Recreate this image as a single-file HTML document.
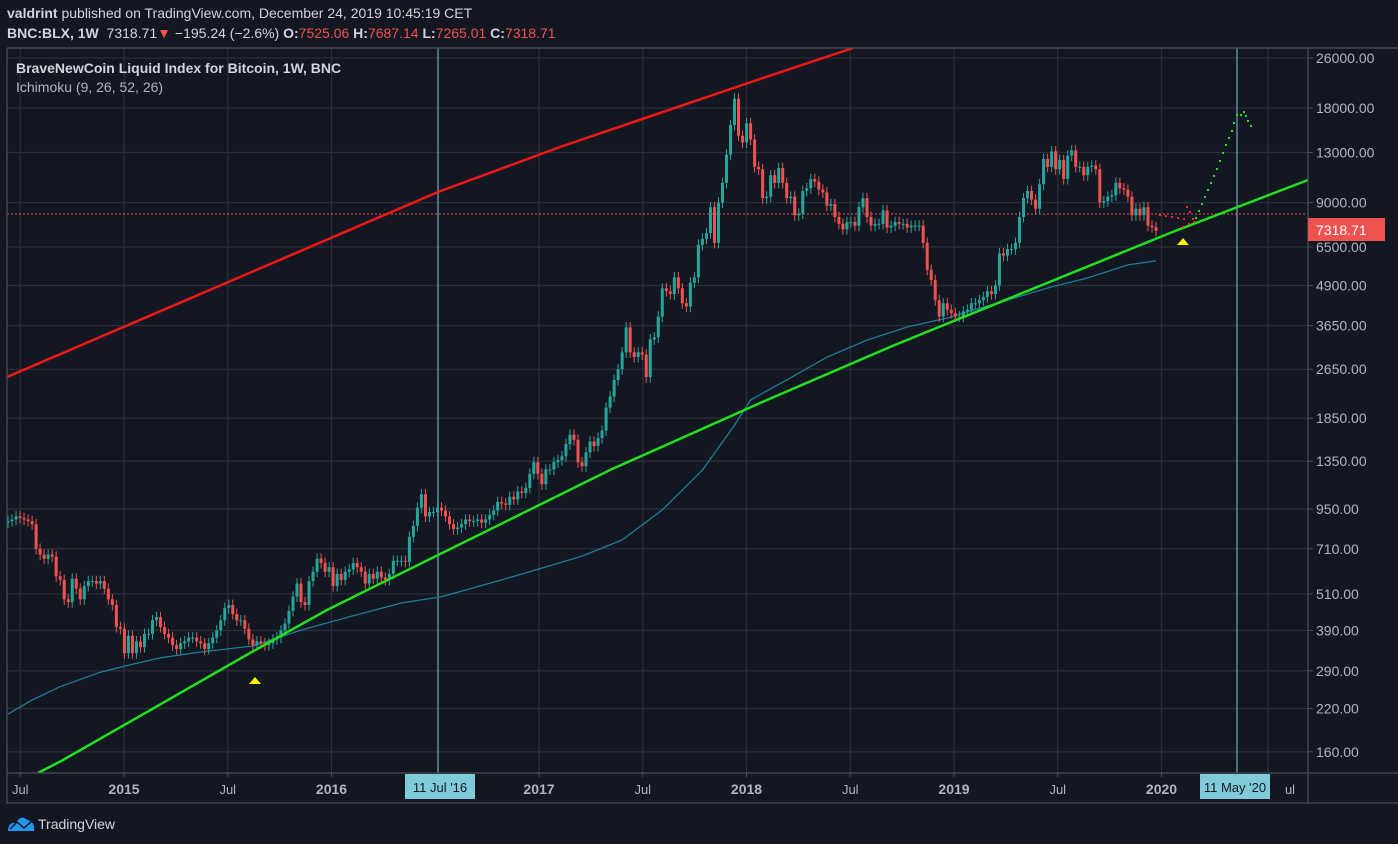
<!DOCTYPE html>
<html><head><meta charset="utf-8">
<style>
body{margin:0;background:#131722;width:1398px;height:844px;overflow:hidden;font-family:"Liberation Sans",sans-serif;}
#hdr1{position:absolute;left:7px;top:5px;color:#d1d4dc;font-size:14px;}
#hdr2{position:absolute;left:7px;top:25px;color:#d1d4dc;font-size:14px;font-weight:bold;}
.r{color:#ef5350;font-weight:normal}
svg{position:absolute;left:0;top:0}
</style></head><body>
<div id="hdr1"><b>valdrint</b> published on TradingView.com, December 24, 2019 10:45:19 CET</div>
<div id="hdr2">BNC:BLX, 1W <span style="font-weight:normal">&nbsp;7318.71</span><span class="r">▼</span><span style="font-weight:normal"> −195.24 (−2.6%)</span> O:<span class="r">7525.06</span> H:<span class="r">7687.14</span> L:<span class="r">7265.01</span> C:<span class="r">7318.71</span></div>
<svg id="chart" width="1398" height="844"></svg>
<script>
const closes=[870,880,900,890,880,870,850,710,680,660,680,670,580,565,490,480,570,530,490,540,560,560,550,560,530,490,470,400,395,330,375,330,360,345,380,380,420,430,400,380,370,350,340,355,360,370,370,360,355,340,355,370,390,420,460,470,440,420,420,395,365,350,360,355,350,355,365,370,390,410,450,500,550,480,470,560,600,660,640,600,620,
540,590,565,600,610,640,620,600,550,590,570,600,575,565,590,650,650,650,645,775,840,960,1060,900,930,930,960,940,900,850,820,830,850,880,870,870,880,860,880,910,940,1000,990,980,1040,1020,1080,1070,1110,1230,1340,1230,1140,1270,1270,1340,1360,1400,1530,1640,1580,1340,1300,1440,1560,1510,1600,1690,2000,2170,
2450,2650,3000,3600,3000,2900,3000,2950,2500,3300,3350,3900,4800,4700,4600,5200,4800,4300,4200,5000,5200,6600,6900,7200,8700,6700,9000,10400,12800,15900,19300,14700,14000,16100,14300,11700,11500,9300,9400,11000,10400,11600,10400,9300,9400,8200,8300,9800,10000,10700,10500,9900,9700,8800,8900,8100,7700,
7400,7800,7800,7600,8700,9300,8100,7600,7700,7700,8500,7500,7600,7800,7700,7700,7500,7600,7600,7600,6700,5500,5100,4400,3900,4300,4100,4000,3900,3900,4050,4100,4300,4300,4400,4500,4700,4600,4900,6200,6100,6400,6400,6700,8100,9300,9800,9200,8600,10300,12400,11700,13100,11500,12300,10700,12700,13200,11700,11700,11000,11700,11800,11500,9000,9100,9400,9500,10400,10000,9900,9400,8200,8600,8200,8700,7600,7514,7318.71];
const maWeeks=[0,6,13,23,29,38,48,61,73,86,98,108,123,133,143,153,163,173,181,185,194,204,214,224,234,239,249,259,269,279,286];
const maValues=[211,234,258,287,300,319,333,348,391,434,477,499,565,616,673,757,944,1264,1759,2114,2450,2895,3282,3613,3860,4035,4400,4810,5180,5700,5870];
const priceTicks=[26000,18000,13000,9000,6500,4900,3650,2650,1850,1350,950,710,510,390,290,220,160];
const timeTicks=[["Jul",2014.5,0],["2015",2015,1],["Jul",2015.5,0],["2016",2016,1],["2017",2017,1],["Jul",2017.5,0],["2018",2018,1],["Jul",2018.5,0],["2019",2019,1],["Jul",2019.5,0],["2020",2020,1]];
const NS="http://www.w3.org/2000/svg";
const svg=document.getElementById('chart');
const L=7,R=1308,T=48,B=773;
const LN26=Math.log(26000);
function yP(p){return 58+(LN26-Math.log(p))*136.3;}
function xT(t){return 124+(t-2015)*207.5;}
function xW(i){return 8+i*(1156-8)/(closes.length-1);}
function el(tag,attrs,parent){const e=document.createElementNS(NS,tag);for(const k in attrs)e.setAttribute(k,attrs[k]);(parent||svg).appendChild(e);return e;}
const defs=el('defs',{});const cp=el('clipPath',{id:'pc'},defs);el('rect',{x:L,y:T,width:R-L,height:B-T},cp);
const grid=el('g',{});


priceTicks.forEach(p=>{const l=el('line',{x1:L,x2:R,y1:yP(p),y2:yP(p),stroke:'#2a2e39','stroke-width':1.3},grid);

});
timeTicks.forEach(t=>{const x=xT(t[1]);const l=el('line',{x1:x,x2:x,y1:T,y2:B,stroke:'#2a2e39','stroke-width':1.3},grid);

});
[1268].forEach(x=>{el('line',{x1:x,x2:x,y1:T,y2:B,stroke:'#2a2e39','stroke-width':1.3},grid);});
[[438,'marker-jul-2016'],[1237,'marker-may-2020']].forEach(m=>{const l=el('line',{x1:m[0],x2:m[0],y1:T,y2:B,stroke:'#6fa9b8','stroke-width':1.2});

});
const g=el('g',{'clip-path':'url(#pc)'});
const pl=el('line',{x1:L,x2:R,y1:214,y2:214,stroke:'#ef5350','stroke-dasharray':'2,2','stroke-width':1},g);


const rl=el('polyline',{points:'7,377 438,192 560,147 757,80 853,48',fill:'none',stroke:'#f21818','stroke-width':2.5},g);


let d='';maWeeks.forEach((w,i)=>{d+=(i?'L':'M')+xW(w).toFixed(1)+','+yP(maValues[i]).toFixed(1);});
const ma=el('path',{d:d,fill:'none',stroke:'#1f7c96','stroke-width':1.3},g);


const cg=el('g',{},g);


for(let i=0;i<closes.length;i++){
 const c=closes[i],o=i?closes[i-1]:c*0.99;const up=c>=o;const col=up?'#26a69a':'#ef5350';
 const x=xW(i);const hi=Math.max(o,c)*1.04,lo=Math.min(o,c)*0.96;
 const w=el('line',{x1:x,x2:x,y1:yP(hi),y2:yP(lo),stroke:col,'stroke-width':1},cg);
 
 
 const yt=yP(Math.max(o,c)),yb=yP(Math.min(o,c));
 const b=el('rect',{x:x-1.5,y:yt,width:3,height:Math.max(1,yb-yt),fill:col},cg);
 
 
}
const gl=el('polyline',{points:'38,773 63,760 250,653 327,610 610,470 767,400 890,347 907,340 1170,233 1308,180',fill:'none',stroke:'#22e01e','stroke-width':2.5},g);


const redDots=[[1160,215],[1166,216],[1172,217],[1178,218],[1184,219],[1187,207],[1190,212],[1183,227],[1189,224],[1193,219],[1194,222]];
redDots.forEach(p=>{const r=el('rect',{x:p[0]-1,y:p[1]-1,width:2,height:2,fill:'#ff2020'},g);

});
const greenDots=[[1196,218],[1199,211],[1202,204],[1205,197],[1208,190],[1211,183],[1214,176],[1217,169],[1220,161],[1223,153],[1226,145],[1229,138],[1232,131],[1234,123],[1237,115],[1241,115],[1244,112],[1246,116],[1248,121],[1251,126]];
greenDots.forEach(p=>{const r=el('rect',{x:p[0]-1,y:p[1]-1,width:2,height:2,fill:'#22e01e'},g);

});
[[255,680],[1183,241]].forEach(p=>{const t=el('polygon',{points:`${p[0]-6},${p[1]+4} ${p[0]},${p[1]-3} ${p[0]+6},${p[1]+4}`,fill:'#fff200'});

});
const fr=el('path',{d:`M${L},${T}H1398M${L},${T}V803H1398M${R},${T}V803M${L},${B}H1398`,stroke:'#4a4e59','stroke-width':1.3,fill:'none'});


priceTicks.forEach(p=>{const y=yP(p);
 el('line',{x1:R,x2:R+5,y1:y,y2:y,stroke:'#4a4e59'});
 const t=el('text',{x:1316,y:y+5,fill:'#b2b5be','font-size':14});t.textContent=p.toFixed(2);
 
 });
const pb=el('rect',{x:1308,y:218,width:77,height:23,fill:'#ef5350'});


const pt=el('text',{x:1316,y:235,fill:'#fff','font-size':14});pt.textContent='7318.71';


timeTicks.forEach(t=>{const x=xT(t[1]);
 el('line',{x1:x,x2:x,y1:B,y2:B+4,stroke:'#4a4e59'});
 const tx=el('text',{x:x,y:794,fill:'#b2b5be','font-size':t[2]?14:13,'font-weight':t[2]?'bold':'normal','text-anchor':'middle'});tx.textContent=t[0];
 
 });
const tl=el('text',{x:1290,y:794,fill:'#b2b5be','font-size':13,'text-anchor':'middle'});tl.textContent='ul';
[[405,'11 Jul \'16'],[1200,'11 May \'20']].forEach(b=>{
 const r=el('rect',{x:b[0],y:774,width:70,height:25,fill:'#7fcbd9'});
 
 
 const t=el('text',{x:b[0]+35,y:792,fill:'#131722','font-size':13,'text-anchor':'middle'});t.textContent=b[1];
 
 });
const lg=el('text',{x:16,y:73,fill:'#d1d4dc','font-size':14,'font-weight':'bold'});lg.textContent='BraveNewCoin Liquid Index for Bitcoin, 1W, BNC';


const lg2=el('text',{x:16,y:92,fill:'#b2b5be','font-size':14});lg2.textContent='Ichimoku (9, 26, 52, 26)';


const logo=el('path',{d:'M8,831 Q8,822 16,823 Q20,814 28,820 Q35,822 34,831 Z',fill:'#2196f3'});


el('path',{d:'M10,829 L17,822 L24,828 L32,821',stroke:'#131722','stroke-width':1.5,fill:'none'});
const ft=el('text',{x:38,y:829,fill:'#d1d4dc','font-size':14});ft.textContent='TradingView';


</script>
</body></html>
